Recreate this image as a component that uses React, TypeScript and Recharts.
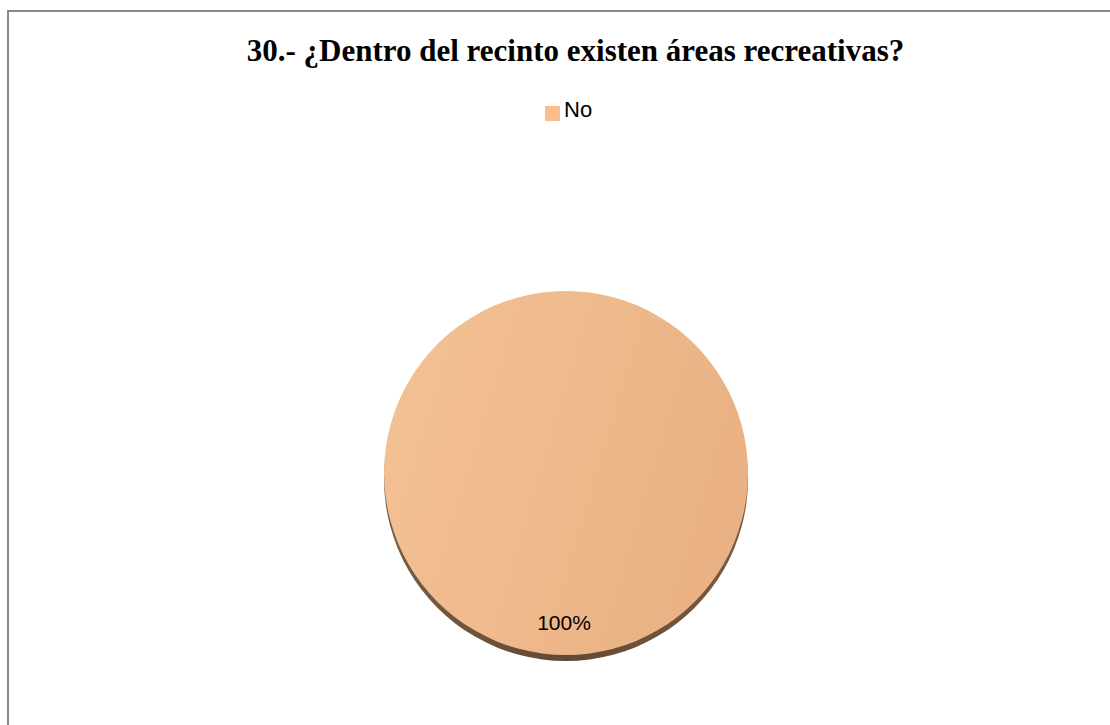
import React from "react";
import { PieChart, Pie, Cell, Legend } from "recharts";

const categories = ["No"];
const values = [100];
const percentLabels = ["100%"];
const legendColors = ["#f9bf8f"];
const titleText = "30.- ¿Dentro del recinto existen áreas recreativas?";

const data = categories.map((name, i) => ({ name, value: values[i], label: percentLabels[i] }));

const RADIAN = Math.PI / 180;

const renderLabel = (props: any) => {
  const { cx, cy, midAngle, outerRadius, index } = props;
  const r = outerRadius * 0.82;
  const x = cx + r * Math.cos(-midAngle * RADIAN) - 2;
  const y = cy + r * Math.sin(-midAngle * RADIAN);
  return (
    <text
      x={x}
      y={y}
      textAnchor="middle"
      dominantBaseline="central"
      fill="#000"
      style={{ fontFamily: "'Liberation Sans', Arial, sans-serif", fontSize: 21 }}
    >
      {data[index].label}
    </text>
  );
};

export default function App() {
  return (
    <div
      style={{
        position: "fixed",
        left: 0,
        top: 0,
        width: 1110,
        height: 725,
        overflow: "hidden",
        background: "#fff",
      }}
    >
      <div
        style={{
          position: "absolute",
          left: 7,
          top: 10,
          width: 1200,
          height: 800,
          border: "2px solid #8a8a8a",
          boxSizing: "border-box",
        }}
      />
      <div
        style={{
          position: "absolute",
          left: 0,
          top: 31,
          width: 1151,
          textAlign: "center",
          fontFamily: "'Liberation Serif', 'Times New Roman', serif",
          fontWeight: "bold",
          fontSize: 31,
          lineHeight: "40px",
          color: "#000",
          whiteSpace: "nowrap",
        }}
      >
        {titleText}
      </div>
      <div style={{ position: "absolute", left: 0, top: 0 }}>
        <PieChart width={1110} height={725} margin={{ top: 0, right: 0, bottom: 0, left: 0 }}>
          <defs>
            <linearGradient id="faceGrad" x1="0" y1="0" x2="1" y2="0.3">
              <stop offset="0%" stopColor="#f4c296" />
              <stop offset="100%" stopColor="#eab284" />
            </linearGradient>
            <linearGradient id="shadowGrad" x1="0" y1="0" x2="1" y2="0">
              <stop offset="0%" stopColor="#7a5c42" />
              <stop offset="50%" stopColor="#634834" />
              <stop offset="100%" stopColor="#7a5c42" />
            </linearGradient>
          </defs>
          <Pie
            data={data}
            dataKey="value"
            nameKey="name"
            cx={566}
            cy={479}
            outerRadius={182}
            startAngle={90}
            endAngle={-270}
            stroke="none"
            legendType="none"
            isAnimationActive={false}
          >
            {data.map((d, i) => (
              <Cell key={`s-${i}`} fill="url(#shadowGrad)" />
            ))}
          </Pie>
          <Pie
            data={data}
            dataKey="value"
            nameKey="name"
            cx={566}
            cy={473}
            outerRadius={182}
            startAngle={90}
            endAngle={-270}
            stroke="none"
            label={renderLabel}
            labelLine={false}
            legendType="none"
            isAnimationActive={false}
          >
            {data.map((d, i) => (
              <Cell key={`c-${i}`} fill="url(#faceGrad)" />
            ))}
          </Pie>
        </PieChart>
      </div>
      <div style={{ position: "absolute", left: 0, top: 0, pointerEvents: "none" }}>
        <PieChart width={1110} height={150} margin={{ top: 0, right: 0, bottom: 0, left: 0 }}>
          <Pie
            data={data}
            dataKey="value"
            nameKey="name"
            cx={10}
            cy={140}
            outerRadius={2}
            stroke="none"
            fillOpacity={0}
            legendType="square"
            isAnimationActive={false}
          >
            {data.map((d, i) => (
              <Cell key={`l-${i}`} fill={legendColors[i]} />
            ))}
          </Pie>
          <Legend
            layout="horizontal"
            verticalAlign="top"
            align="left"
            iconType="square"
            iconSize={15}
            formatter={(value: any) => (
              <span
                style={{
                  color: "#000",
                  fontFamily: "'Liberation Sans', Arial, sans-serif",
                  fontSize: 22,
                }}
              >
                {value}
              </span>
            )}
            wrapperStyle={{ left: 545, top: 97, width: 90 }}
          />
        </PieChart>
      </div>
    </div>
  );
}
